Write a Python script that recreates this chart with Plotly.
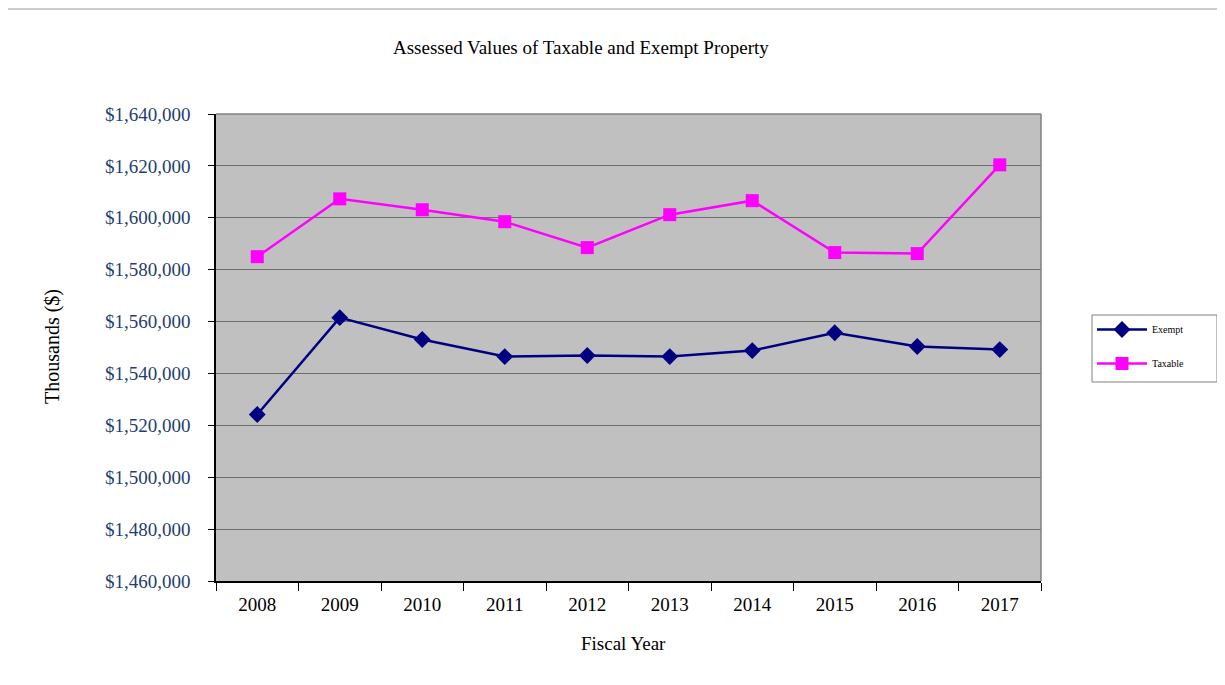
import plotly.graph_objects as go

years = ["2008", "2009", "2010", "2011", "2012", "2013", "2014", "2015", "2016", "2017"]
exempt = [1524200, 1561500, 1553100, 1546500, 1546900, 1546500, 1548800, 1555700, 1550400, 1549200]
taxable = [1585000, 1607300, 1603100, 1598500, 1588500, 1601200, 1606600, 1586600, 1586200, 1620400]
y_ticks = list(range(1460000, 1640001, 20000))
y_tick_text = ["${:,}".format(v) for v in y_ticks]

OFF = 8  # page body margin
W, H = 1225 - OFF, 685 - OFF
L, R, T, B = 216 - OFF, 1041 - OFF, 114 - OFF, 581 - OFF
pw, ph = R - L, B - T

def px(x):
    return (x - OFF - L) / pw

def py(y):
    return (B - (y - OFF)) / ph

SERIF = "Liberation Serif, Times New Roman, serif"

fig = go.Figure()
fig.add_trace(go.Scatter(
    x=years, y=exempt, name="Exempt", mode="lines+markers",
    line=dict(color="#000080", width=2.5),
    marker=dict(symbol="diamond", size=13, color="#000080"),
    legendgroup="a",
))
fig.add_trace(go.Scatter(
    x=years, y=taxable, name="Taxable", mode="lines+markers",
    line=dict(color="#FF00FF", width=2.5),
    marker=dict(symbol="square", size=13, color="#FF00FF"),
    legendgroup="b",
))

fig.update_layout(
    width=W, height=H,
    margin=dict(l=L, r=W - R, t=T, b=H - B, autoexpand=False),
    paper_bgcolor="white",
    plot_bgcolor="#C0C0C0",
    font=dict(family=SERIF, size=19, color="black"),
    showlegend=True,
    legend=dict(
        x=px(1092), y=py(315), xanchor="left", yanchor="top",
        borderwidth=0, bgcolor="rgba(0,0,0,0)",
        font=dict(family=SERIF, size=10, color="black"),
        traceorder="grouped", tracegroupgap=15,
        itemwidth=50,
    ),
    xaxis=dict(
        type="category", range=[-0.5, 9.5],
        showline=True, linecolor="black", linewidth=1.5,
        ticks="outside", ticklen=8, tickcolor="black", tickson="boundaries",
        showgrid=False, zeroline=False,
        tickfont=dict(family=SERIF, size=19, color="black"),
        ticklabelstandoff=5,
    ),
    yaxis=dict(
        range=[1460000, 1640000], tickvals=y_ticks, ticktext=y_tick_text,
        showline=True, linecolor="black", linewidth=1.5,
        ticks="outside", ticklen=6, tickcolor="black",
        showgrid=True, gridcolor="#6E6E6E", gridwidth=1,
        zeroline=False,
        tickfont=dict(family=SERIF, size=19, color="#1F3F6E"),
        ticklabelstandoff=14,
    ),
    annotations=[
        dict(text="Assessed Values of Taxable and Exempt Property",
             x=px(581), y=py(47), xref="paper", yref="paper",
             xanchor="center", yanchor="middle",
             showarrow=False, font=dict(family=SERIF, size=19, color="black")),
        dict(text="Thousands ($)", x=px(52), y=py(347), xref="paper", yref="paper",
             xanchor="center", yanchor="middle",
             showarrow=False, textangle=-90,
             font=dict(family=SERIF, size=20, color="black")),
        dict(text="Fiscal Year", x=px(623), y=py(643), xref="paper", yref="paper",
             xanchor="center", yanchor="middle",
             showarrow=False, font=dict(family=SERIF, size=19, color="black")),
    ],
    shapes=[
        dict(type="line", xref="paper", yref="paper", x0=0, x1=1, y0=1, y1=1,
             line=dict(color="#808080", width=1.5)),
        dict(type="line", xref="paper", yref="paper", x0=1, x1=1, y0=0, y1=1,
             line=dict(color="#808080", width=1.5)),
        dict(type="line", xref="paper", yref="paper",
             x0=px(0), x1=px(1240), y0=py(9), y1=py(9),
             line=dict(color="#BDBDBD", width=1.5)),
        # legend frame
        dict(type="rect", xref="paper", yref="paper",
             x0=px(1092), x1=px(1217), y0=py(315), y1=py(382),
             line=dict(color="#808080", width=1), fillcolor="rgba(0,0,0,0)"),
    ],
)

fig.write_html("out.html")
